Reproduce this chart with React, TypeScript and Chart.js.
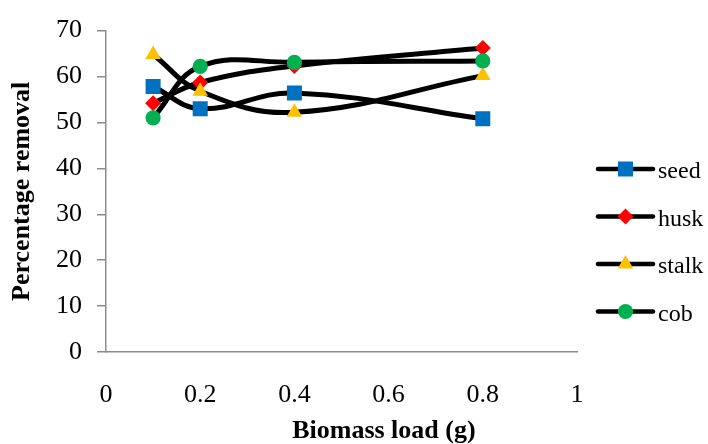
import React, { useEffect, useRef } from 'react';
import { Chart, registerables } from 'chart.js';

Chart.register(...registerables);

// ---- data ----
const biomassLoad = [0.1, 0.2, 0.4, 0.8];
const seedValues = [57.8, 53.0, 56.4, 50.8];
const huskValues = [54.2, 58.7, 62.3, 66.2];
const stalkValues = [64.8, 56.8, 52.2, 60.2];
const cobValues = [51.0, 62.2, 63.1, 63.4];
const seriesNames = ['seed', 'husk', 'stalk', 'cob'];
const xTickLabels = ['0', '0.2', '0.4', '0.6', '0.8', '1'];
const yTickLabels = ['0', '10', '20', '30', '40', '50', '60', '70'];
const xAxisTitle = 'Biomass load (g)';
const yAxisTitle = 'Percentage removal';

const SERIF = '"Liberation Serif", "Times New Roman", serif';

const seriesValues = [seedValues, huskValues, stalkValues, cobValues];
const seriesColors = ['#0070C0', '#FF0000', '#FFC000', '#00B050'];
const seriesStyles = ['rect', 'rectRot', 'triangle', 'circle'];
const seriesRadius = [10.6, 8, 9, 7.6];

function drawMarker(ctx: CanvasRenderingContext2D, style: string, x: number, y: number, r: number, color: string) {
  ctx.save();
  ctx.fillStyle = color;
  ctx.beginPath();
  if (style === 'rect') {
    const s = Math.SQRT1_2 * r;
    ctx.rect(x - s, y - s, 2 * s, 2 * s);
  } else if (style === 'rectRot') {
    ctx.moveTo(x, y - r);
    ctx.lineTo(x + r, y);
    ctx.lineTo(x, y + r);
    ctx.lineTo(x - r, y);
    ctx.closePath();
  } else if (style === 'triangle') {
    for (let k = 0; k < 3; k++) {
      const a = (k * 2 * Math.PI) / 3;
      const px = x + Math.sin(a) * r;
      const py = y - Math.cos(a) * r;
      if (k === 0) ctx.moveTo(px, py);
      else ctx.lineTo(px, py);
    }
    ctx.closePath();
  } else {
    ctx.arc(x, y, r, 0, Math.PI * 2);
  }
  ctx.fill();
  ctx.restore();
}

const decorPlugin = {
  id: 'decor',
  afterDraw(chart: any) {
    const ctx: CanvasRenderingContext2D = chart.ctx;
    const area = chart.chartArea;
    ctx.save();
    // axis titles
    ctx.fillStyle = '#000';
    ctx.font = `bold 26px ${SERIF}`;
    ctx.textAlign = 'center';
    ctx.textBaseline = 'middle';
    ctx.fillText(xAxisTitle, area.left + 0.59 * (area.right - area.left), 431);
    ctx.save();
    ctx.translate(22, (area.top + area.bottom) / 2);
    ctx.rotate(-Math.PI / 2);
    ctx.fillText(yAxisTitle, 0, 0);
    ctx.restore();

    // legend
    const ds = chart.data.datasets;
    const lx0 = 598;
    const lx1 = 653;
    const ly0 = 169;
    const step = 47.5;
    ds.forEach((d: any, i: number) => {
      const y = ly0 + i * step;
      ctx.strokeStyle = '#000';
      ctx.lineWidth = 4.5;
      ctx.lineCap = 'round';
      ctx.beginPath();
      ctx.moveTo(lx0, y);
      ctx.lineTo(lx1, y);
      ctx.stroke();
      drawMarker(ctx, d.pointStyle, (lx0 + lx1) / 2, y, d.pointRadius, d.pointBackgroundColor);
      ctx.fillStyle = '#000';
      ctx.font = `24px ${SERIF}`;
      ctx.textAlign = 'left';
      ctx.textBaseline = 'alphabetic';
      ctx.fillText(d.label, 658, y + 9);
    });
    ctx.restore();
  },
};

export default function App() {
  const canvasRef = useRef<HTMLCanvasElement | null>(null);

  useEffect(() => {
    document.body.style.margin = '0';
    const canvas = canvasRef.current;
    if (!canvas) return;
    const datasets = seriesNames.map((name, i) => ({
      label: name,
      data: biomassLoad.map((x, j) => ({ x, y: seriesValues[i][j] })),
      borderColor: '#000000',
      borderWidth: 5,
      tension: 0.4,
      fill: false,
      pointStyle: seriesStyles[i],
      pointRadius: seriesRadius[i],
      pointBackgroundColor: seriesColors[i],
      pointBorderColor: seriesColors[i],
      pointBorderWidth: 0,
      order: seriesNames.length - i,
    }));

    const chart = new Chart(canvas, {
      type: 'line',
      data: { datasets } as any,
      options: {
        responsive: false,
        animation: false,
        devicePixelRatio: 1,
        layout: { padding: { top: 26, right: 131, left: 0, bottom: 0 } },
        plugins: { legend: { display: false }, tooltip: { enabled: false } },
        scales: {
          x: {
            type: 'linear',
            min: 0,
            max: 1,
            ticks: {
              stepSize: 0.2,
              color: '#000',
              padding: 28,
              font: { family: SERIF, size: 26 },
              callback: (_v: any, idx: number) => xTickLabels[idx],
            },
            grid: { display: false, drawTicks: false },
            border: { display: true, color: '#8c8c8c', width: 1.5 },
            afterFit: (scale: any) => {
              scale.height = 92;
            },
          },
          y: {
            min: 0,
            max: 70,
            ticks: {
              stepSize: 10,
              color: '#000',
              padding: 15,
              font: { family: SERIF, size: 26 },
              callback: (_v: any, idx: number) => yTickLabels[idx],
            },
            grid: { drawOnChartArea: false, drawTicks: true, tickLength: 9, color: '#8c8c8c', lineWidth: 1.5 },
            border: { display: true, color: '#8c8c8c', width: 1.5 },
            afterFit: (scale: any) => {
              scale.width = 106;
            },
          },
        },
      } as any,
      plugins: [decorPlugin],
    });
    return () => chart.destroy();
  }, []);

  return (
    <div style={{ width: 708, height: 444 }}>
      <canvas ref={canvasRef} width={708} height={444} style={{ display: 'block' }} />
    </div>
  );
}
